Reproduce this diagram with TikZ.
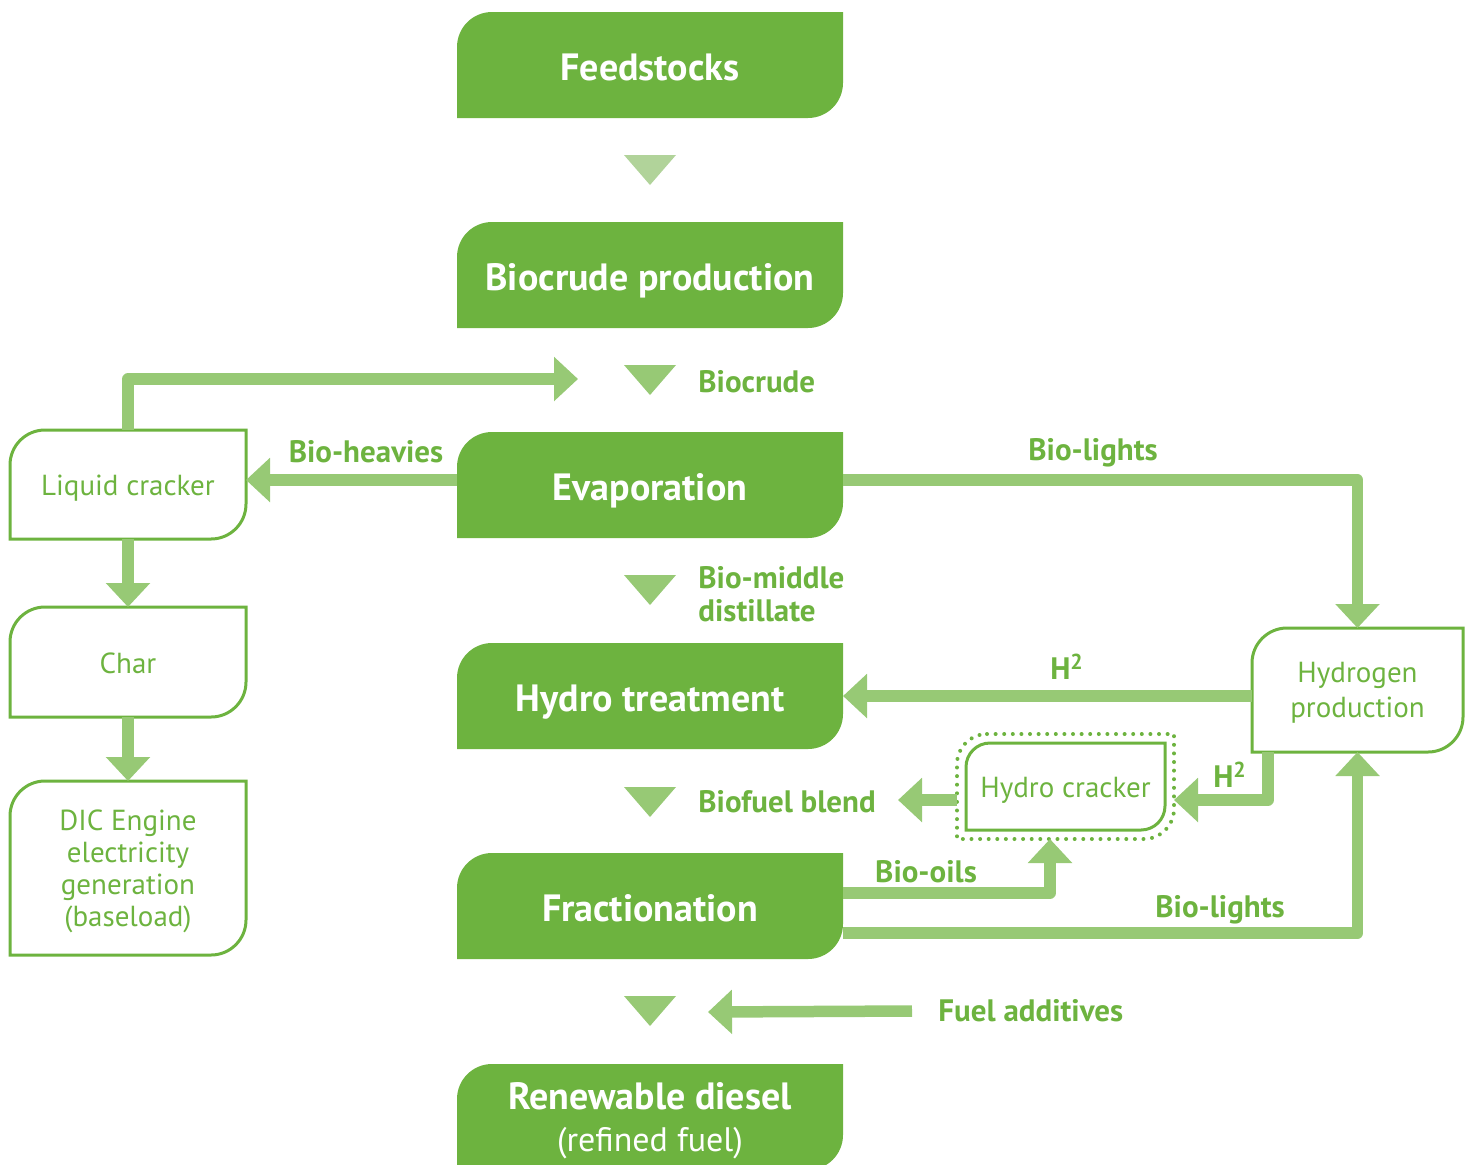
\documentclass[tikz,border=0pt]{standalone}
\usepackage{fontspec}
\setmainfont{PT Sans}
\usetikzlibrary{arrows.meta, backgrounds, fit}

\definecolor{leafgreen}{RGB}{109,179,63}
\definecolor{flowgreen}{RGB}{151,201,117}
\definecolor{palegreen}{RGB}{177,211,154}

% box with round top left and bottom right corners: node, radius, options
\newcommand{\leafbox}[3]{\path[#3] ([xshift=#2]#1.north west) -- (#1.north east) -- ([yshift=#2]#1.south east) arc[start angle=0, end angle=-90, radius=#2] -- (#1.south west) -- ([yshift=-#2]#1.north west) arc[start angle=180, end angle=90, radius=#2] -- cycle;}

\tikzset{
  mainbox/.style={minimum width=193pt, minimum height=53pt, inner sep=0pt, outer sep=0pt, text=white, align=center, text height=15pt, text depth=0pt, font=\fontsize{19}{21}\selectfont\bfseries},
  sidebox/.style={minimum width=118pt, inner sep=0pt, outer sep=0pt, text=leafgreen, align=center, text height=11pt, text depth=-1pt, font=\fontsize{14.5}{16}\selectfont},
  flowlabel/.style={inner sep=0pt, text=leafgreen, align=left, font=\fontsize{15.5}{16.5}\selectfont\bfseries},
  flow/.style={draw=flowgreen, line width=5.75pt, line join=round, -{Triangle[length=12pt, width=21.5pt]}},
  marker/.style={fill=flowgreen},
}

\begin{document}
\begin{tikzpicture}[x=0.5pt, y=-0.5pt]
\useasboundingbox (0,0) rectangle (1473,1164);

% Main column
\node[mainbox] (feed) at (650,65) {Feedstocks};
\node[mainbox] (bcp) at (650,275) {Biocrude production};
\node[mainbox] (evap) at (650,485) {Evaporation};
\node[mainbox] (htr) at (650,696) {Hydro treatment};
\node[mainbox] (frac) at (650,906) {Fractionation};
\node[mainbox, text height=, text depth=0pt] (rdsl) at (650,1117) {Renewable diesel\\{\mdseries\fontsize{17}{21}\selectfont (refined fuel)}};

% Side boxes
\node[sidebox, minimum height=54.5pt] (liq) at (128,484.5) {Liquid cracker};
\node[sidebox, minimum height=55pt] (char) at (128,662) {Char};
\node[sidebox, minimum height=87pt, text height=] (dic) at (128,868) {DIC Engine\\electricity\\generation\\(baseload)};
\node[sidebox, minimum width=105.5pt, minimum height=62pt, text height=, text depth=-3pt, font=\fontsize{14.5}{17.5}\selectfont] (hyd) at (1357.5,690) {Hydrogen\\production};
\node[sidebox, minimum width=99.5pt, minimum height=43.5pt] (hc) at (1065.5,786.5) {Hydro cracker};
\node[fit=(hc), inner sep=4.5pt, outer sep=0pt] (hcdot) {};

\begin{scope}[on background layer]
\foreach \n in {feed,bcp,evap,htr,frac,rdsl}
  {\leafbox{\n}{17.5pt}{fill=leafgreen}}
\foreach \n in {liq,char,dic,hyd}
  {\leafbox{\n}{17.5pt}{draw=leafgreen, line width=1.5pt}}
\leafbox{hc}{12pt}{draw=leafgreen, line width=1.5pt}
\leafbox{hcdot}{15pt}{draw=leafgreen, line width=2pt, line cap=round, dash pattern=on 0pt off 4.3pt}
\end{scope}

% Down markers
\fill[palegreen] (624,155) -- ++(52,0) -- ++(-26,30) -- cycle;
\foreach \y in {365,575,787,996}
  \fill[marker] (624,\y) -- ++(52,0) -- ++(-26,30) -- cycle;

% Labels
\node[flowlabel, anchor=west] (lbcr) at (698,382) {Biocrude};
\node[flowlabel, anchor=west] (lbmd) at (698,594) {Bio-middle\\distillate};
\node[flowlabel, anchor=west] (lbfb) at (698,802) {Biofuel blend};
\node[flowlabel, anchor=west] (lfa) at (938,1011) {Fuel additives};
\node[flowlabel] (lbh) at (366,452) {Bio-heavies};
\node[flowlabel] (lbl1) at (1093,453) {Bio-lights};
\node[flowlabel] (lh1) at (1067,667) {H\textsuperscript{2}};
\node[flowlabel] (lh2) at (1230,775) {H\textsuperscript{2}};
\node[flowlabel] (lbo) at (926,872) {Bio-oils};
\node[flowlabel] (lbl2) at (1220,910) {Bio-lights};

% Free ends
\coordinate (bcin) at (578,379);
\coordinate (fbin) at (898,800);
\coordinate (fain) at (708,1012);

% Connectors
\draw[flow] (liq.north) |- (bcin);
\draw[flow] ([yshift=2.5pt]evap.west) -- ([yshift=2.5pt]evap.west -| liq.east);
\draw[flow] ([yshift=2.5pt]evap.east) -| (hyd.north);
\draw[flow] (liq.south) -- (char.north);
\draw[flow] (char.south) -- (dic.north);
\draw[flow] (hyd.west |- htr.east) -- (htr.east);
\draw[flow] ([xshift=-44.75pt]hyd.south) |- ([yshift=-6.75pt]hcdot.east);
\draw[flow] ([yshift=-6.75pt]hcdot.west) -- (fbin);
\draw[flow] ([yshift=6.5pt]frac.east) -| ([xshift=-7.75pt]hcdot.south);
\draw[flow] ([yshift=-13.5pt]frac.east) -| (hyd.south);
\draw[flow] ([xshift=-13pt]lfa.west) -- (fain);

\end{tikzpicture}
\end{document}
